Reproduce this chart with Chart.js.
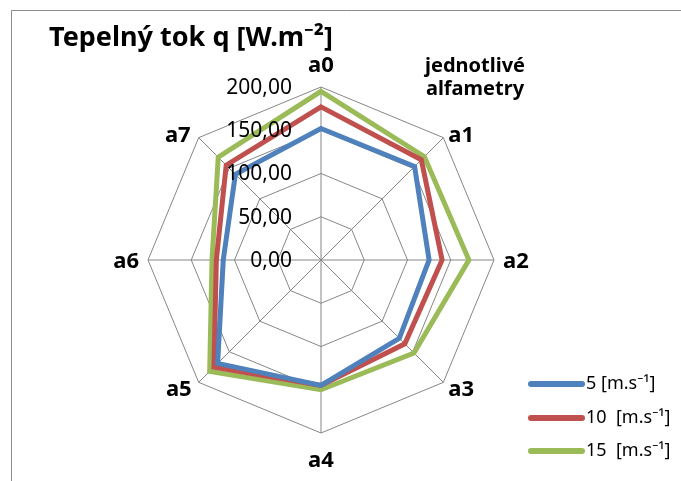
<!DOCTYPE html>
<html>
<head>
<meta charset="utf-8">
<script src="https://cdn.jsdelivr.net/npm/chart.js@4.4.1/dist/chart.umd.min.js"></script>
<style>
  html, body { margin: 0; padding: 0; background: #fff; }
  #wrap { position: relative; width: 681px; height: 481px; }
</style>
</head>
<body>
<div id="wrap"><canvas id="chart-radar" width="681" height="481"></canvas></div>
<script>
const axisLabels = ['a0', 'a1', 'a2', 'a3', 'a4', 'a5', 'a6', 'a7'];
const tickValues = [0, 50, 100, 150, 200];
const seriesNames = ['5 [m.s\u207B\u00B9]', '10  [m.s\u207B\u00B9]', '15  [m.s\u207B\u00B9]'];
const speed5 = [152, 153, 125, 128, 145, 169, 113, 140];
const speed10 = [177, 164, 140, 137, 145, 175, 121, 155];
const speed15 = [195, 169, 171, 152, 150, 182, 126, 168];
const seriesColors = ['#4F81BD', '#C0504D', '#9BBB59'];

const fontFamily = "'Noto Sans', 'Open Sans', sans-serif";

// where each axis label sits relative to its outer vertex: [dx, dy(baseline), align]
const labelOffsets = [
    [0, -15, 'center'],
    [5, 4, 'left'],
    [9, 8, 'left'],
    [5, 14, 'left'],
    [0, 34, 'center'],
    [-7, 14, 'right'],
    [-9, 8, 'right'],
    [-8, 4, 'right']
];

// Excel-like decorations: frame, title, side note, axis + tick labels, legend
const decorPlugin = {
    id: 'decor',
    beforeDraw(chart) {
        const ctx = chart.ctx;
        ctx.save();
        ctx.strokeStyle = '#8c8c8c';
        ctx.lineWidth = 1;
        ctx.beginPath();
        ctx.moveTo(11.5, 481);
        ctx.lineTo(11.5, 10.5);
        ctx.lineTo(681, 10.5);
        ctx.stroke();
        ctx.restore();
    },
    afterDatasetsDraw(chart) {
        const ctx = chart.ctx;
        const scale = chart.scales.r;
        ctx.save();
        ctx.fillStyle = '#000';

        // title
        ctx.font = 'bold 27px ' + fontFamily;
        ctx.textAlign = 'left';
        ctx.textBaseline = 'alphabetic';
        ctx.fillText('Tepelný tok q [W.m\u207B\u00B2]', 49, 46);

        // side note
        ctx.font = 'bold 20px ' + fontFamily;
        ctx.textAlign = 'center';
        ctx.fillText('jednotlivé', 475, 72);
        ctx.fillText('alfametry', 475, 95);

        // axis labels
        ctx.font = 'bold 22px ' + fontFamily;
        axisLabels.forEach((lbl, i) => {
            const p = scale.getPointPositionForValue(i, scale.max);
            const off = labelOffsets[i];
            ctx.textAlign = off[2];
            ctx.fillText(lbl, p.x + off[0], p.y + off[1]);
        });

        // tick labels along the a0 axis
        ctx.font = '21px ' + fontFamily;
        ctx.textAlign = 'right';
        ctx.textBaseline = 'middle';
        tickValues.forEach(v => {
            const d = scale.getDistanceFromCenterForValue(v);
            ctx.fillText(v.toFixed(2).replace('.', ','), scale.xCenter - 29, scale.yCenter - d + 1);
        });

        // legend
        ctx.font = '18px ' + fontFamily;
        ctx.textAlign = 'left';
        ctx.lineCap = 'round';
        ctx.lineWidth = 6;
        const legendY = [384, 418, 451];
        seriesNames.forEach((name, i) => {
            ctx.strokeStyle = seriesColors[i];
            ctx.beginPath();
            ctx.moveTo(531, legendY[i]);
            ctx.lineTo(582, legendY[i]);
            ctx.stroke();
            ctx.fillText(name, 586, legendY[i]);
        });
        ctx.restore();
    }
};

const datasets = [speed5, speed10, speed15].map((values, i) => ({
    label: seriesNames[i],
    data: values,
    borderColor: seriesColors[i],
    backgroundColor: seriesColors[i],
    borderWidth: 5,
    pointRadius: 0,
    pointHoverRadius: 0,
    fill: false
}));

new Chart(document.getElementById('chart-radar').getContext('2d'), {
    type: 'radar',
    data: { labels: axisLabels, datasets: datasets },
    options: {
        responsive: false,
        animation: false,
        layout: { padding: { left: 148, right: 187, top: 87, bottom: 48 } },
        plugins: {
            legend: { display: false },
            tooltip: { enabled: false }
        },
        scales: {
            r: {
                min: 0,
                max: 200,
                ticks: { stepSize: 50, display: false },
                grid: { color: '#868686', lineWidth: 1 },
                angleLines: { color: '#868686', lineWidth: 1 },
                pointLabels: { display: false }
            }
        }
    },
    plugins: [decorPlugin]
});
</script>
</body>
</html>
